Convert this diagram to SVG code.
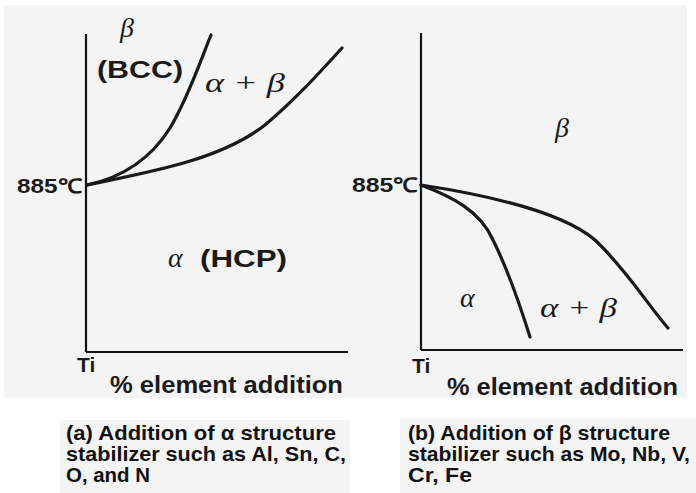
<svg xmlns="http://www.w3.org/2000/svg" width="696" height="493" viewBox="0 0 696 493">
<style>
.axis{stroke:#111;stroke-width:2.2;fill:none}
.curve{stroke:#1a1a1a;stroke-width:3.2;fill:none;stroke-linecap:round}
.sans{font-family:"Liberation Sans",Arial,sans-serif;font-weight:bold;fill:#1a1a1a}
.greek{font-family:"Liberation Serif","Times New Roman",serif;font-style:italic;fill:#1a1a1a}
.cap{font-family:"Liberation Sans",Arial,sans-serif;font-weight:bold;font-size:21px;fill:#111}
</style>
<rect x="0" y="0" width="696" height="493" fill="#ffffff"/>
<rect x="4" y="5" width="683" height="393" fill="#f4f4f4"/>
<rect x="60" y="420" width="290" height="73" fill="#f4f4f4"/>
<rect x="400" y="418" width="296" height="75" fill="#f4f4f4"/>

<g id="chart-a">
  <line class="axis" x1="86" y1="34" x2="86" y2="352"/>
  <line class="axis" x1="86" y1="352" x2="348" y2="352"/>
  <text class="sans" x="17" y="193" font-size="20" textLength="65" lengthAdjust="spacingAndGlyphs">885℃</text>
  <text class="greek" x="120" y="37" font-size="28">β</text>
  <text class="sans" x="97" y="78" font-size="24" textLength="86" lengthAdjust="spacingAndGlyphs">(BCC)</text>
  <text class="greek" x="205" y="92" font-size="28" textLength="80" lengthAdjust="spacingAndGlyphs">α + β</text>
  <text class="greek" x="168" y="267" font-size="28">α</text>
  <text class="sans" x="200" y="267" font-size="24" textLength="87" lengthAdjust="spacingAndGlyphs">(HCP)</text>
  <text class="sans" x="77" y="372" font-size="21">Ti</text>
  <text class="sans" x="110" y="393" font-size="24" textLength="233" lengthAdjust="spacingAndGlyphs">% element addition</text>
</g>

<g id="chart-b">
  <line class="axis" x1="421" y1="33" x2="421" y2="350"/>
  <line class="axis" x1="421" y1="350" x2="683" y2="350"/>
  <text class="sans" x="352" y="192" font-size="20" textLength="66" lengthAdjust="spacingAndGlyphs">885℃</text>
  <text class="greek" x="555" y="137" font-size="28">β</text>
  <text class="greek" x="460" y="307" font-size="28">α</text>
  <text class="greek" x="540" y="317" font-size="28" textLength="77" lengthAdjust="spacingAndGlyphs">α + β</text>
  <text class="sans" x="412" y="373" font-size="21">Ti</text>
  <text class="sans" x="447" y="395" font-size="24" textLength="231" lengthAdjust="spacingAndGlyphs">% element addition</text>
</g>

<g id="connectors">
  <path class="curve" d="M87,185 C120,178 150,160 170,128 C188,98 200,62 211,35"/>
  <path class="curve" d="M87,185 C150,172 220,160 265,125 C295,100 320,72 342,48"/>
  <path class="curve" d="M421,185 C450,196 480,210 493,240 C508,270 520,305 530,337"/>
  <path class="curve" d="M421,185 C480,194 560,210 595,240 C625,268 648,305 668,328"/>
</g>

<g id="caption-a">
  <text class="cap" x="66" y="440" textLength="270" lengthAdjust="spacingAndGlyphs">(a) Addition of α structure</text>
  <text class="cap" x="66" y="461" textLength="280" lengthAdjust="spacingAndGlyphs">stabilizer such as Al, Sn, C,</text>
  <text class="cap" x="66" y="482" textLength="84" lengthAdjust="spacingAndGlyphs">O, and N</text>
</g>
<g id="caption-b">
  <text class="cap" x="408" y="440" textLength="262" lengthAdjust="spacingAndGlyphs">(b) Addition of β structure</text>
  <text class="cap" x="408" y="461" textLength="282" lengthAdjust="spacingAndGlyphs">stabilizer such as Mo, Nb, V,</text>
  <text class="cap" x="408" y="482" textLength="64" lengthAdjust="spacingAndGlyphs">Cr, Fe</text>
</g>
</svg>
